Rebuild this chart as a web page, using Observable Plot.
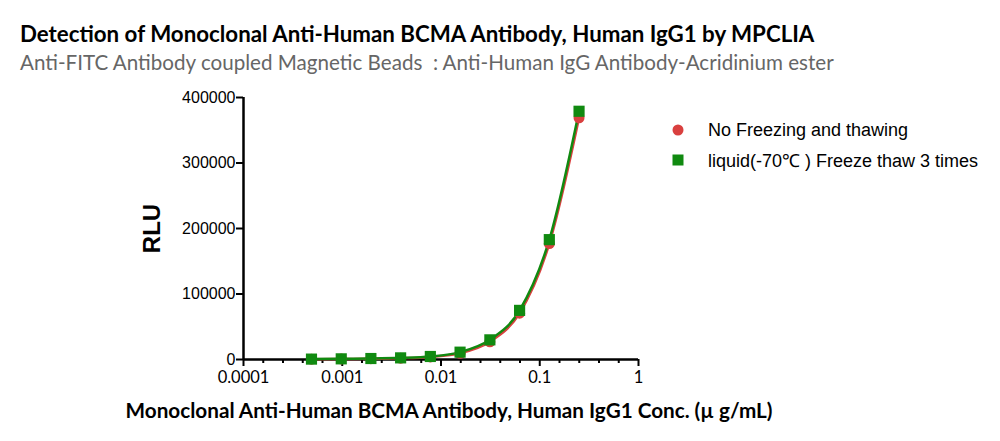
<!DOCTYPE html>
<html><head><meta charset="utf-8">
<script src="https://cdn.jsdelivr.net/npm/d3@7"></script>
<script src="https://cdn.jsdelivr.net/npm/@observablehq/plot@0.6"></script>
<style>
body{margin:0;background:#fff;}
#wrap{position:relative;width:1000px;height:441px;overflow:hidden;background:#fff;}
#header{height:80px;position:relative;}
#title{position:absolute;left:20px;top:20px;font:bold 22.3px Lato,"Open Sans",sans-serif;color:#000;white-space:nowrap;}
#subtitle{position:absolute;left:20px;top:50px;font:20.6px Lato,"Open Sans",sans-serif;color:#666;white-space:nowrap;}
#legend{position:absolute;left:670px;top:115px;font:18px "Liberation Sans",Arial,sans-serif;color:#000;}
.row{display:flex;align-items:center;height:30px;white-space:nowrap;}
.row svg{width:38px;height:20px;}
</style></head>
<body>
<div id="wrap">
  <div id="header">
    <div id="title">Detection of Monoclonal Anti-Human BCMA Antibody, Human IgG1 by MPCLIA</div>
    <div id="subtitle">Anti-FITC Antibody coupled Magnetic Beads &nbsp;: Anti-Human IgG Antibody-Acridinium ester</div>
  </div>
  <div id="chart"></div>
  <div id="legend"></div>
</div>
<script>
// Data
const conc = [0.000488, 0.000977, 0.00195, 0.0039, 0.0078, 0.0156, 0.03125, 0.0625, 0.125, 0.25];
const noFreeze = [500, 800, 1200, 2000, 4000, 9500, 27000, 70800, 177000, 369000];
const freezeThaw = [600, 1000, 1500, 2500, 4600, 11200, 30000, 75000, 183000, 379000];
const seriesNames = ["No Freezing and thawing", "liquid(-70\u2103 ) Freeze thaw 3 times"];
const xTicks = [0.0001, 0.001, 0.01, 0.1, 1];
const yTicks = [0, 100000, 200000, 300000, 400000];
const xLabel = "Monoclonal Anti-Human BCMA Antibody, Human IgG1 Conc. (\u00b5 g/mL)";
const yLabel = "RLU";

const red = "#d9403f", green = "#108a10";
const redData = conc.map((c, i) => ({c, v: noFreeze[i]}));
const greenData = conc.map((c, i) => ({c, v: freezeThaw[i]}));
// minor ticks: 4 evenly spaced (in log) per decade
const minorTicks = [];
for (let d = 0; d < xTicks.length - 1; d++) for (let k = 1; k < 5; k++) minorTicks.push(xTicks[d] * Math.pow(10, k / 5));

const plot = Plot.plot({
  width: 1000, height: 361,
  marginLeft: 243, marginRight: 362, marginTop: 17, marginBottom: 82,
  style: {fontFamily: "'Liberation Sans', Arial, sans-serif", fontSize: "16px", color: "#000", background: "transparent"},
  x: {type: "log", domain: [0.0001, 1]},
  y: {domain: [0, 400000]},
  marks: [
    Plot.axisY({ticks: yTicks, tickSize: 7, tickFormat: d => String(d), tickPadding: 1,
      label: null, fontSize: 16, strokeWidth: 2}),
    Plot.axisX({ticks: xTicks, tickSize: 7, tickFormat: d => String(d), tickPadding: 5,
      label: null, fontFamily: "Lato, 'Open Sans', sans-serif", fontSize: 16.5, strokeWidth: 2}),
    Plot.axisX({ticks: minorTicks, tickSize: 4, tickFormat: () => "", label: null, strokeWidth: 2}),
    Plot.ruleY([0], {stroke: "#000", strokeWidth: 2.5}),
    Plot.ruleX([0.0001], {stroke: "#000", strokeWidth: 2.5}),
    Plot.line(redData, {x: "c", y: "v", stroke: red, strokeWidth: 2.5, curve: "monotone-x"}),
    Plot.line(greenData, {x: "c", y: "v", stroke: green, strokeWidth: 2.5, curve: "monotone-x"}),
    Plot.dot(redData, {x: "c", y: "v", fill: red, r: 5.5, symbol: "circle"}),
    Plot.dot(greenData, {x: "c", y: "v", fill: green, r: 6.3, symbol: "square"}),
    Plot.text([yLabel], {frameAnchor: "left", dx: -91, rotate: -90, textAnchor: "middle", fontSize: 24, fontWeight: "bold",
      fontFamily: "'Liberation Sans', Arial, sans-serif", text: d => d}),
    Plot.text([xLabel], {frameAnchor: "bottom", dy: 58, dx: 8, fontSize: 20.7, fontWeight: "bold",
      fontFamily: "Lato, 'Open Sans', sans-serif", text: d => d})
  ]
});
document.getElementById("chart").appendChild(plot);
</script>
<script>
// Legend
const leg = document.getElementById("legend");
const syms = [
  `<svg viewBox="0 0 38 20"><circle cx="8" cy="10" r="5.5" fill="${red}"/></svg>`,
  `<svg viewBox="0 0 38 20"><rect x="2.5" y="4.5" width="11" height="11" fill="${green}"/></svg>`
];
seriesNames.forEach((n, i) => {
  const r = document.createElement("div");
  r.className = "row";
  r.innerHTML = syms[i] + `<span>${n}</span>`;
  leg.appendChild(r);
});
</script>
</body></html>
